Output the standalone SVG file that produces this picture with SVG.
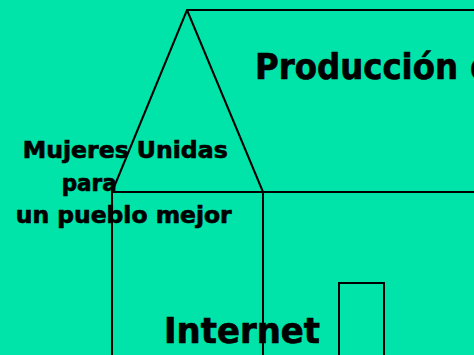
<svg xmlns="http://www.w3.org/2000/svg" width="474" height="355" viewBox="0 0 474 355">
<style>
.ln{fill:none;stroke:#000;stroke-width:2;stroke-linejoin:miter}
.t{font-family:"DejaVu Sans Condensed","DejaVu Sans","Liberation Sans",sans-serif;font-weight:bold;font-stretch:condensed;fill:#000;stroke:#000;stroke-width:0.6}
</style>
<rect x="0" y="0" width="474" height="355" fill="#00E3A9"/>
<g id="house">
<path class="ln" d="M475,10 H187 L112,192 M187,10 L263,192 M112,355 V192 H475 M263,192 V356"/>
<rect id="door" class="ln" x="339" y="283" width="45" height="80"/>
</g>
<g id="labels">
<text class="t" x="255" y="79" font-size="36" textLength="203" lengthAdjust="spacingAndGlyphs">Producción</text>
<text class="t" x="470" y="79" font-size="36">de</text>
<text class="t" x="22.7" y="158" font-size="23" textLength="205" lengthAdjust="spacingAndGlyphs">Mujeres Unidas</text>
<text class="t" x="61.7" y="191" font-size="23" textLength="55" lengthAdjust="spacingAndGlyphs">para</text>
<text class="t" x="15.7" y="223" font-size="23" textLength="216" lengthAdjust="spacingAndGlyphs">un pueblo mejor</text>
<text class="t" x="164" y="343" font-size="35" textLength="156" lengthAdjust="spacingAndGlyphs">Internet</text>
</g>
</svg>
